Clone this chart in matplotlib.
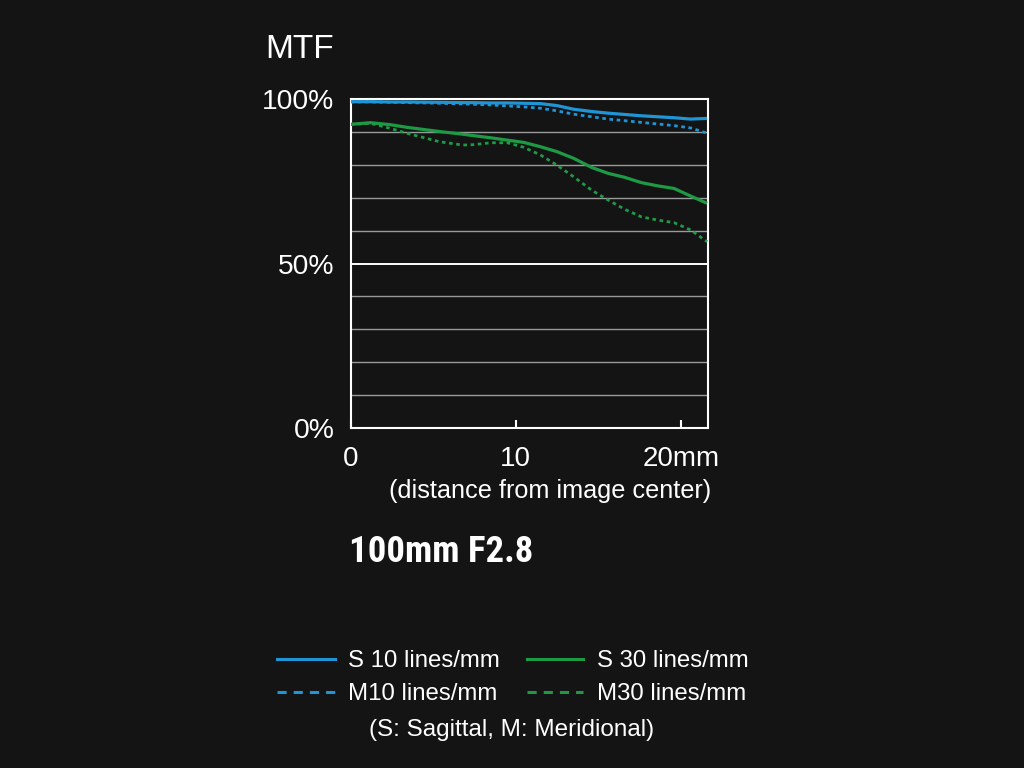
import matplotlib
matplotlib.use("Agg")
import matplotlib.pyplot as plt
from matplotlib.lines import Line2D
from matplotlib import font_manager

# ------------------------------------------------------------
#    DATA
# ------------------------------------------------------------
dist_mm = [0, 1.2, 2.4, 3.4, 5.4, 6.8, 7.4, 8.5, 9.5, 10.5, 11.5, 12.5,
           13.5, 14.6, 15.6, 16.6, 17.6, 18.6, 19.6, 20.6, 21.6]

s10 = [99.2, 99.2, 99.1, 99.1, 99.0, 98.9, 98.9, 98.8, 98.8, 98.7, 98.6, 98.0,
       96.9, 96.2, 95.7, 95.3, 94.9, 94.6, 94.3, 93.9, 94.1]
m10 = [99.1, 99.1, 99.0, 98.9, 98.7, 98.5, 98.4, 98.2, 97.9, 97.6, 97.2, 96.4,
       95.4, 94.6, 93.9, 93.4, 92.9, 92.4, 91.9, 91.2, 89.6]
s30 = [92.3, 92.8, 92.2, 91.4, 90.1, 89.3, 88.9, 88.2, 87.5, 86.8, 85.5, 84.0,
       82.0, 79.2, 77.4, 76.2, 74.6, 73.6, 72.8, 70.5, 68.3]
m30 = [92.3, 92.6, 91.1, 89.6, 87.0, 86.0, 86.1, 86.7, 86.7, 85.3, 83.0, 79.9,
       76.4, 72.3, 69.3, 66.5, 64.2, 63.2, 62.4, 60.2, 56.6]

y_ticks = [0, 50, 100]
y_ticklabels = ["0%", "50%", "100%"]
x_ticks = [0, 10, 20]
x_ticklabels = ["0", "10", "20mm"]
grid_levels = [10, 20, 30, 40, 60, 70, 80, 90]

legend_labels = ["S 10 lines/mm", "M10 lines/mm", "S 30 lines/mm", "M30 lines/mm"]

BG = "#141414"
BLUE = "#1f95d5"
GREEN = "#1e9a45"
FONT = ["Liberation Sans", "DejaVu Sans"]

plt.rcParams["font.family"] = FONT

# pick a condensed bold face for the lens name if one is around
installed = set(f.name for f in font_manager.fontManager.ttflist)
title_family = ["Liberation Sans", "DejaVu Sans"]
title_stretch = "normal"
for cand in ["Liberation Sans Narrow", "Roboto Condensed", "Open Sans Condensed",
             "DejaVu Sans Condensed", "Noto Sans Condensed"]:
    if cand in installed:
        title_family = [cand, "DejaVu Sans"]
        break
else:
    if "DejaVu Sans" in installed:
        title_family = ["DejaVu Sans"]
        title_stretch = "condensed"

fig = plt.figure(figsize=(10.24, 7.68), dpi=100, facecolor=BG)
ax = fig.add_axes([350.5 / 1024, 1 - 428 / 768, 357.5 / 1024, 329 / 768])
ax.set_facecolor(BG)

# gridlines
for g in grid_levels:
    ax.axhline(g, color="#9a9a9a", lw=1.0, zorder=1)
ax.axhline(50, color="white", lw=1.4, zorder=1)

# curves
ax.plot(dist_mm, s10, color=BLUE, lw=2.3, zorder=3, solid_capstyle="butt")
ax.plot(dist_mm, m10, color=BLUE, lw=2.0, ls=(0, (1.3, 1.3)), zorder=3)
ax.plot(dist_mm, s30, color=GREEN, lw=2.3, zorder=3, solid_capstyle="butt")
ax.plot(dist_mm, m30, color=GREEN, lw=2.0, ls=(0, (1.3, 1.3)), zorder=3)

ax.set_xlim(0, 21.65)
ax.set_ylim(0, 100)

for s in ax.spines.values():
    s.set_color("white")
    s.set_linewidth(1.5)

ax.set_xticks(x_ticks)
ax.set_xticklabels(x_ticklabels)
ax.set_yticks(y_ticks)
ax.set_yticklabels(y_ticklabels)
ax.tick_params(axis="x", direction="in", length=6, width=1.5, color="white",
               labelcolor="white", labelsize=20, pad=13)
ax.tick_params(axis="y", length=0, labelcolor="white", labelsize=20.3, pad=11.5)

# texts
fig.text(265 / 1024, 1 - 49 / 768, "MTF", color="white", fontsize=24,
         ha="left", va="center")
fig.text(550 / 1024, 1 - 491 / 768, "(distance from image center)", color="white",
         fontsize=18.2, ha="center", va="center")
fig.text(349 / 1024, 1 - 552 / 768, "100mm F2.8", color="white", fontsize=26.5,
         fontweight="bold", ha="left", va="center",
         family=title_family, fontstretch=title_stretch)

# legend (manual layout)
rows_y = [661, 694]
cols = [(277, 335, 348, BLUE), (527, 583, 597, GREEN)]
k = 0
for c0, c1, tx, col in cols:
    for r, yy in enumerate(rows_y):
        ls = "-" if r == 0 else (0, (3.0, 2.3))
        ly = 1 - (yy - 2) / 768
        fig.add_artist(Line2D([c0 / 1024, c1 / 1024], [ly, ly],
                              color=col, lw=2.2, ls=ls, transform=fig.transFigure))
        fig.text(tx / 1024, 1 - yy / 768, legend_labels[k], color="white",
                 fontsize=17.3, ha="left", va="center")
        k += 1
fig.text(512 / 1024, 1 - 730 / 768, "(S: Sagittal, M: Meridional)", color="white",
         fontsize=17.5, ha="center", va="center")

fig.savefig("out.png", dpi=100, facecolor=BG)
